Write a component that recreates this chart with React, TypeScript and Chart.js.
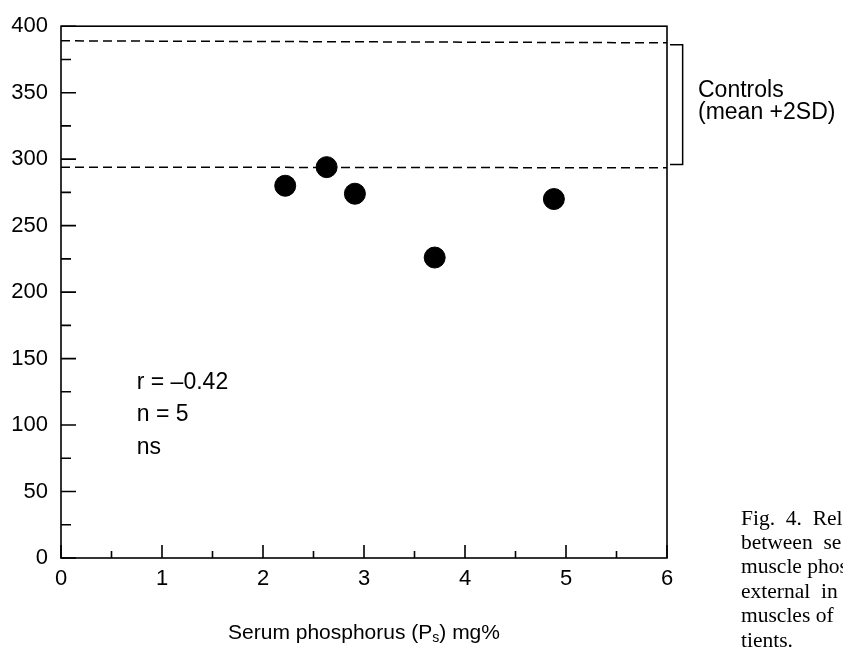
import React, { useEffect, useRef } from "react";
import { Chart, registerables } from "chart.js";

Chart.register(...registerables);

const phosphorus = [2.22, 2.63, 2.91, 3.7, 4.88];
const muscleP = [280, 294, 274, 226, 270];

const controlUpperX = [0, 6];
const controlUpperY = [389, 387.5];
const controlLowerX = [0, 6];
const controlLowerY = [294, 293.5];

const bracketX = [6.03, 6.155, 6.155, 6.03];
const bracketY = [386, 386, 296, 296];

const xMajorTicks = [0, 1, 2, 3, 4, 5, 6];
const xMinorTicks = [0.5, 1.5, 2.5, 3.5, 4.5, 5.5];
const yMajorTicks = [0, 50, 100, 150, 200, 250, 300, 350, 400];
const yMinorTicks = [25, 75, 125, 175, 225, 275, 325, 375];

const statLabels = ["r = \u20130.42", "n = 5", "ns"];
const statX = 0.75;
const statY = [132, 108, 83];

const controlLabels = ["Controls", "(mean +2SD)"];
const captionLines = ["Fig.  4.  Rel", "between  se", "muscle phos", "external  in", "muscles of  ", "tients."];

const SANS = "'Liberation Sans', Arial, Helvetica, sans-serif";
const SERIF = "'Liberation Serif', 'Times New Roman', serif";

const decorPlugin = {
  id: "decor",
  afterDatasetsDraw(chart: any) {
    const { ctx, chartArea, scales } = chart;
    const xs = scales.x;
    const ys = scales.y;
    ctx.save();
    ctx.strokeStyle = "#000";
    ctx.fillStyle = "#000";
    ctx.lineWidth = 1.6;
    ctx.strokeRect(chartArea.left, chartArea.top, chartArea.right - chartArea.left, chartArea.bottom - chartArea.top);
    ctx.beginPath();
    yMajorTicks.forEach((v) => {
      const p = ys.getPixelForValue(v);
      ctx.moveTo(chartArea.left, p);
      ctx.lineTo(chartArea.left + 15, p);
    });
    yMinorTicks.forEach((v) => {
      const p = ys.getPixelForValue(v);
      ctx.moveTo(chartArea.left, p);
      ctx.lineTo(chartArea.left + 10, p);
    });
    xMajorTicks.forEach((v) => {
      const p = xs.getPixelForValue(v);
      ctx.moveTo(p, chartArea.bottom);
      ctx.lineTo(p, chartArea.bottom - 13);
    });
    xMinorTicks.forEach((v) => {
      const p = xs.getPixelForValue(v);
      ctx.moveTo(p, chartArea.bottom);
      ctx.lineTo(p, chartArea.bottom - 7);
    });
    ctx.stroke();

    ctx.font = `23px ${SANS}`;
    ctx.textAlign = "left";
    ctx.textBaseline = "middle";
    statLabels.forEach((t, i) => {
      ctx.fillText(t, xs.getPixelForValue(statX), ys.getPixelForValue(statY[i]));
    });

    const cx = xs.getPixelForValue(6) + 31;
    ctx.fillText(controlLabels[0], cx, 91);
    ctx.fillText(controlLabels[1], cx, 113);

    const t1 = "Serum phosphorus (P";
    const t2 = "s";
    const t3 = ") mg%";
    const mainFont = `21px ${SANS}`;
    const subFont = `14px ${SANS}`;
    ctx.font = mainFont;
    const w1 = ctx.measureText(t1).width;
    const w3 = ctx.measureText(t3).width;
    ctx.font = subFont;
    const w2 = ctx.measureText(t2).width;
    const total = w1 + w2 + w3;
    const center = (chartArea.left + chartArea.right) / 2;
    let x = center - total / 2;
    const ty = 632;
    ctx.textBaseline = "alphabetic";
    ctx.font = mainFont;
    ctx.fillText(t1, x, ty + 7);
    x += w1;
    ctx.font = subFont;
    ctx.fillText(t2, x, ty + 10);
    x += w2;
    ctx.font = mainFont;
    ctx.fillText(t3, x, ty + 7);

    ctx.font = `21.5px ${SERIF}`;
    ctx.textBaseline = "middle";
    captionLines.forEach((line, i) => {
      ctx.fillText(line, 741, 519 + i * 24.4);
    });
    ctx.restore();
  },
};

export default function App() {
  const ref = useRef<HTMLCanvasElement | null>(null);
  useEffect(() => {
    if (!ref.current) return;
    const chart = new Chart(ref.current, {
      type: "scatter",
      data: {
        datasets: [
          {
            data: phosphorus.map((x, i) => ({ x, y: muscleP[i] })),
            backgroundColor: "#000",
            borderColor: "#000",
            pointRadius: 10.5,
            pointHoverRadius: 10.5,
          },
          {
            type: "line",
            data: controlUpperX.map((x, i) => ({ x, y: controlUpperY[i] })),
            borderColor: "#000",
            borderWidth: 1.5,
            borderDash: [9, 5],
            pointRadius: 0,
            fill: false,
          },
          {
            type: "line",
            data: controlLowerX.map((x, i) => ({ x, y: controlLowerY[i] })),
            borderColor: "#000",
            borderWidth: 1.5,
            borderDash: [9, 5],
            pointRadius: 0,
            fill: false,
          },
          {
            type: "line",
            data: bracketX.map((x, i) => ({ x, y: bracketY[i] })),
            borderColor: "#000",
            borderWidth: 1.5,
            pointRadius: 0,
            fill: false,
            clip: false as any,
            tension: 0,
          },
        ],
      } as any,
      options: {
        animation: false,
        responsive: false,
        events: [],
        layout: { padding: { top: 23, right: 176, left: 0, bottom: 0 } },
        plugins: { legend: { display: false }, tooltip: { enabled: false } },
        scales: {
          x: {
            type: "linear",
            min: 0,
            max: 6,
            grid: { display: false, drawTicks: false },
            border: { display: false },
            ticks: {
              stepSize: 1,
              padding: 8,
              color: "#000",
              font: { family: SANS, size: 22 },
            },
            afterFit: (s: any) => {
              s.height = 92;
            },
          },
          y: {
            min: 0,
            max: 400,
            grid: { display: false, drawTicks: false },
            border: { display: false },
            ticks: {
              stepSize: 50,
              padding: 13,
              color: "#000",
              font: { family: SANS, size: 22 },
            },
            afterFit: (s: any) => {
              s.width = 61;
            },
          },
        },
      } as any,
      plugins: [decorPlugin],
    });
    return () => chart.destroy();
  }, []);
  return (
    <div style={{ position: "absolute", left: 0, top: 0, width: 843, height: 650, background: "#fff" }}>
      <canvas ref={ref} width={843} height={650} style={{ width: 843, height: 650, display: "block" }} />
    </div>
  );
}
